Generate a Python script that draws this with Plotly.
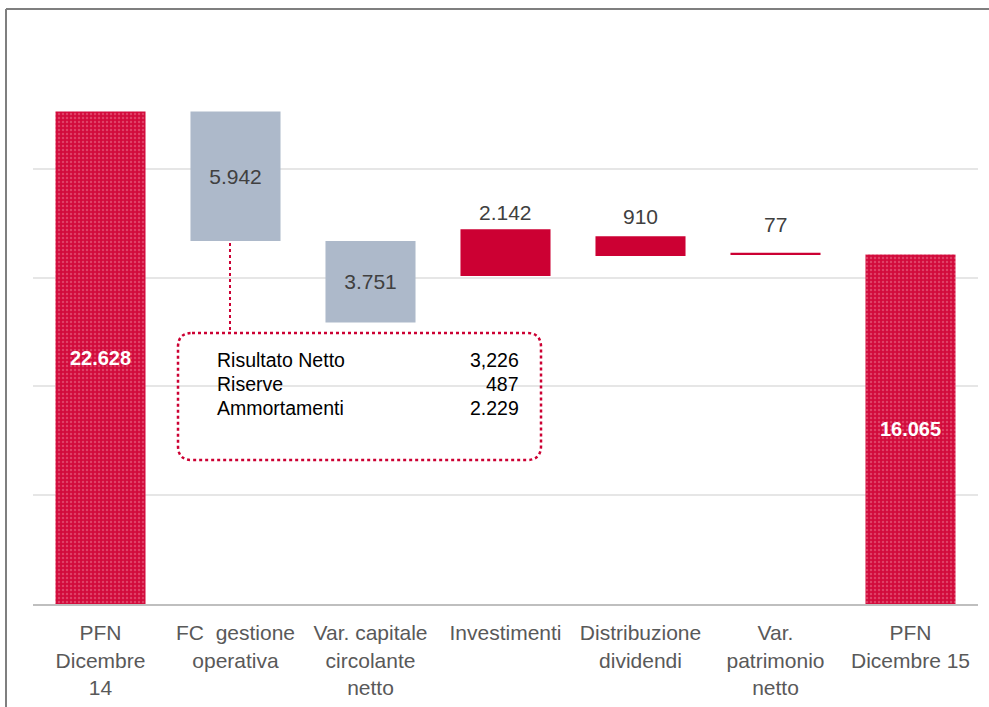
import plotly.graph_objects as go

# ---- data ----
categories = ["PFN<br>Dicembre<br>14", "FC\u00a0\u00a0gestione<br>operativa",
              "Var. capitale<br>circolante<br>netto", "Investimenti",
              "Distribuzione<br>dividendi", "Var.<br>patrimonio<br>netto",
              "PFN<br>Dicembre 15"]
values = [22628, -5942, -3751, 2142, 910, 77, 16065]
measures = ["total", "relative", "relative", "relative", "relative", "relative", "total"]
value_labels = ["22.628", "5.942", "3.751", "2.142", "910", "77", "16.065"]

box_items = ["Risultato Netto", "Riserve", "Ammortamenti"]
box_values = ["3,226", "487", "2.229"]

# ---- compute waterfall geometry from data (as drawn in the source chart) ----
tot_x, tot_y, tot_t = [], [], []
dec_x, dec_y, dec_b, dec_t = [], [], [], []
inc_x, inc_y, inc_b, inc_t = [], [], [], []
running = 0
for c, v, m, t in zip(categories, values, measures, value_labels):
    if m == "total":
        tot_x.append(c); tot_y.append(v); tot_t.append(t)
        running = v
    elif v < 0:
        dec_x.append(c); dec_y.append(-v); dec_b.append(running + v); dec_t.append(t)
        running += v
    else:
        running += v
        inc_x.append(c); inc_y.append(v); inc_b.append(running); inc_t.append(t)

FONT = "Liberation Sans, Arial, sans-serif"
RED = "#CC0033"
GREY = "#ADB9CA"

fig = go.Figure()
fig.add_trace(go.Bar(
    x=tot_x, y=tot_y, text=tot_t, textposition="inside", insidetextanchor="middle",
    textfont=dict(family=FONT, size=20, color="white", weight="bold"),
    marker=dict(color="#D20B3B", line=dict(width=0),
                pattern=dict(shape=".", fgcolor="#EC7590", size=4, solidity=0.3)),
    width=0.667, hoverinfo="skip", cliponaxis=False))
fig.add_trace(go.Bar(
    x=dec_x, y=dec_y, base=dec_b, text=dec_t, textposition="inside", insidetextanchor="middle",
    textfont=dict(family=FONT, size=21, color="#404040"),
    marker=dict(color=GREY, line=dict(width=0)),
    width=0.667, hoverinfo="skip", cliponaxis=False))
fig.add_trace(go.Bar(
    x=inc_x, y=inc_y, base=inc_b,
    marker=dict(color=RED, line=dict(width=0)),
    width=0.667, hoverinfo="skip", cliponaxis=False))

L, R, T, B = 33, 11, 60, 103
W, H = 989, 707
PW, PH = W - L - R, H - T - B

def px(xp):
    return (xp - L) / PW

def py(yp):
    return (H - B - yp) / PH

# rounded dotted box
bl, br, bt, bb, rr = 178, 541, 333, 460, 14
pts = [
    ("M", bl + rr, bt), ("L", br - rr, bt), ("Q", br, bt, br, bt + rr),
    ("L", br, bb - rr), ("Q", br, bb, br - rr, bb), ("L", bl + rr, bb),
    ("Q", bl, bb, bl, bb - rr), ("L", bl, bt + rr), ("Q", bl, bt, bl + rr, bt),
]
path = ""
for p in pts:
    if p[0] == "Q":
        path += f"Q{px(p[1]):.5f},{py(p[2]):.5f} {px(p[3]):.5f},{py(p[4]):.5f} "
    else:
        path += f"{p[0]}{px(p[1]):.5f},{py(p[2]):.5f} "
path += "Z"

shapes = [
    dict(type="path", xref="paper", yref="paper", path=path,
         line=dict(color=RED, width=2.5, dash="dot"), layer="above"),
    dict(type="line", xref="paper", yref="paper", x0=px(230), x1=px(230),
         y0=py(243), y1=py(333), line=dict(color=RED, width=2, dash="dot")),
    # outer frame
    dict(type="line", xref="paper", yref="paper", x0=px(6), x1=px(6),
         y0=py(9), y1=py(720), line=dict(color="#7F7F7F", width=2)),
    dict(type="line", xref="paper", yref="paper", x0=px(6), x1=px(995),
         y0=py(9), y1=py(9), line=dict(color="#7F7F7F", width=2)),
]

annotations = []
# labels above increasing bars
label_gaps = [17, 20, 28]
for c, b, v, t, g in zip(inc_x, inc_b, inc_y, inc_t, label_gaps):
    annotations.append(dict(x=c, y=b + v, xref="x", yref="y", text=t, showarrow=False,
                            yanchor="middle", yshift=g,
                            font=dict(family=FONT, size=21, color="#404040")))

for i, (name, val) in enumerate(zip(box_items, box_values)):
    yy = py(360 + 24 * i)
    annotations.append(dict(xref="paper", yref="paper", x=px(215), y=yy, text=name,
                            xanchor="left", yanchor="middle", showarrow=False,
                            font=dict(family=FONT, size=19.5, color="#000000")))
    annotations.append(dict(xref="paper", yref="paper", x=px(521), y=yy, text=val,
                            xanchor="right", yanchor="middle", showarrow=False,
                            font=dict(family=FONT, size=19.5, color="#000000")))

fig.update_layout(
    width=W, height=H, margin=dict(l=L, r=R, t=T, b=B, autoexpand=False),
    paper_bgcolor="white", plot_bgcolor="white",
    barmode="overlay", showlegend=False, bargap=0.333,
    shapes=shapes, annotations=annotations,
    xaxis=dict(type="category", categoryorder="array", categoryarray=categories,
               showgrid=False, showline=True, linecolor="#BFBFBF", linewidth=2,
               ticks="", ticklabelstandoff=9, automargin=False,
               tickfont=dict(family=FONT, size=21, color="#595959")),
    yaxis=dict(range=[0, 25000], dtick=5000, showticklabels=False, automargin=False,
               showgrid=True, gridcolor="#E6E6E6", gridwidth=2,
               zeroline=False, showline=False),
)

fig.write_html("out.html", config={"displayModeBar": False},
               post_script="document.body.style.margin='0';document.body.style.overflow='hidden';")
